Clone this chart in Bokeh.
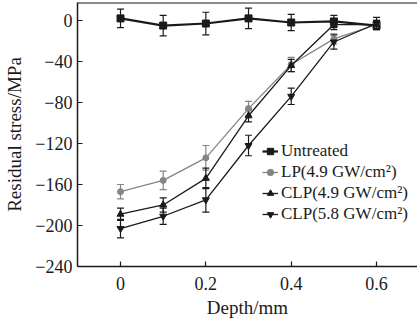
from bokeh.plotting import figure
from bokeh.models import (Range1d, Whisker, ColumnDataSource, Legend, LegendItem,
                          FixedTicker, Span, TeeHead)
from bokeh.embed import file_html
from bokeh.resources import INLINE

depth = [0, 0.1, 0.2, 0.3, 0.4, 0.5, 0.6]
untreated = [2, -5, -3, 2, -2, -1, -5]
untreated_err = [9, 10, 11, 10, 8, 6, 4]
lp49 = [-167, -156, -134, -86, -43, -18, -4]
lp49_err = [7, 9, 12, 7, 7, 5, 4]
clp49 = [-189, -180, -154, -93, -44, -4, -4]
clp49_err = [6, 7, 10, 6, 6, 5, 4]
clp58 = [-203, -191, -175, -122, -74, -21, -3]
clp58_err = [9, 8, 12, 10, 8, 7, 6]

series_names = ["Untreated", "LP(4.9 GW/cm\u00b2)", "CLP(4.9 GW/cm\u00b2)", "CLP(5.8 GW/cm\u00b2)"]

y_ticks = [0, -40, -80, -120, -160, -200, -240]
y_tick_labels = ["0", "\u221240", "\u221280", "\u2212120", "\u2212160", "\u2212200", "\u2212240"]
x_ticks = [0, 0.2, 0.4, 0.6]
x_tick_labels = ["0", "0.2", "0.4", "0.6"]

FONT = "Liberation Serif"
BLACK = "#1a1a1a"
GREY = "#858585"
Y_TOP = 17.5

p = figure(width=417, height=321, output_backend="svg", toolbar_location=None,
           x_range=Range1d(-0.1008, 0.696), y_range=Range1d(-240, Y_TOP),
           min_border_left=77, min_border_right=0, min_border_top=2, min_border_bottom=55)
p.outline_line_color = None
p.xgrid.grid_line_color = None
p.ygrid.grid_line_color = None
p.background_fill_color = "white"
p.border_fill_color = "white"

for ax in (p.xaxis[0], p.yaxis[0]):
    ax.axis_line_color = BLACK
    ax.axis_line_width = 1.5
    ax.major_tick_line_color = BLACK
    ax.major_tick_line_width = 1.2
    ax.major_tick_in = 5
    ax.major_tick_out = 0
    ax.minor_tick_line_color = None
    ax.major_label_text_font = FONT
    ax.major_label_text_font_size = "18px"
    ax.major_label_text_color = BLACK
    ax.axis_label_text_font = FONT
    ax.axis_label_text_font_size = "19px"
    ax.axis_label_text_font_style = "normal"
    ax.axis_label_text_color = BLACK

p.xaxis.ticker = FixedTicker(ticks=x_ticks)
p.xaxis.major_label_overrides = {t: l for t, l in zip(x_ticks, x_tick_labels)}
p.yaxis.ticker = FixedTicker(ticks=y_ticks)
p.yaxis.major_label_overrides = {t: l for t, l in zip(y_ticks, y_tick_labels)}
p.xaxis.axis_label = "Depth/mm"
p.yaxis.axis_label = "Residual stress/MPa"
p.xaxis.major_label_standoff = 10
p.xaxis.axis_label_standoff = 4
p.yaxis.major_label_standoff = 5
p.yaxis.axis_label_standoff = 7

top_line = Span(location=Y_TOP, dimension="width", line_color=BLACK, line_width=2)
p.add_layout(top_line)

specs = [
    (untreated, untreated_err, BLACK, "square", 7, 2.2),
    (lp49, lp49_err, GREY, "circle", 6, 1.3),
    (clp49, clp49_err, BLACK, "triangle", 7, 1.3),
    (clp58, clp58_err, BLACK, "inverted_triangle", 7, 1.3),
]

items = []
for name, (vals, errs, color, marker, msize, lw) in zip(series_names, specs):
    src = ColumnDataSource(dict(x=depth, y=vals,
                                upper=[v + e for v, e in zip(vals, errs)],
                                lower=[v - e for v, e in zip(vals, errs)]))
    w = Whisker(base="x", upper="upper", lower="lower", source=src,
                line_color=color, line_width=1.2,
                upper_head=TeeHead(size=7, line_color=color, line_width=1.2),
                lower_head=TeeHead(size=7, line_color=color, line_width=1.2))
    p.add_layout(w)
    l = p.line("x", "y", source=src, line_color=color, line_width=lw)
    s = p.scatter("x", "y", source=src, marker=marker, size=msize,
                  fill_color=color, line_color=color)
    items.append(LegendItem(label=name, renderers=[l, s]))

legend = Legend(items=items, location=(185, 42))
legend.background_fill_alpha = 0
legend.border_line_color = None
legend.padding = 0
legend.margin = 0
legend.spacing = 1
legend.glyph_width = 16
legend.glyph_height = 18
legend.label_height = 18
legend.label_standoff = 3
legend.label_text_font = FONT
legend.label_text_font_size = "17px"
legend.label_text_color = BLACK
p.add_layout(legend)

open("out.html", "w").write(file_html(p, INLINE))
